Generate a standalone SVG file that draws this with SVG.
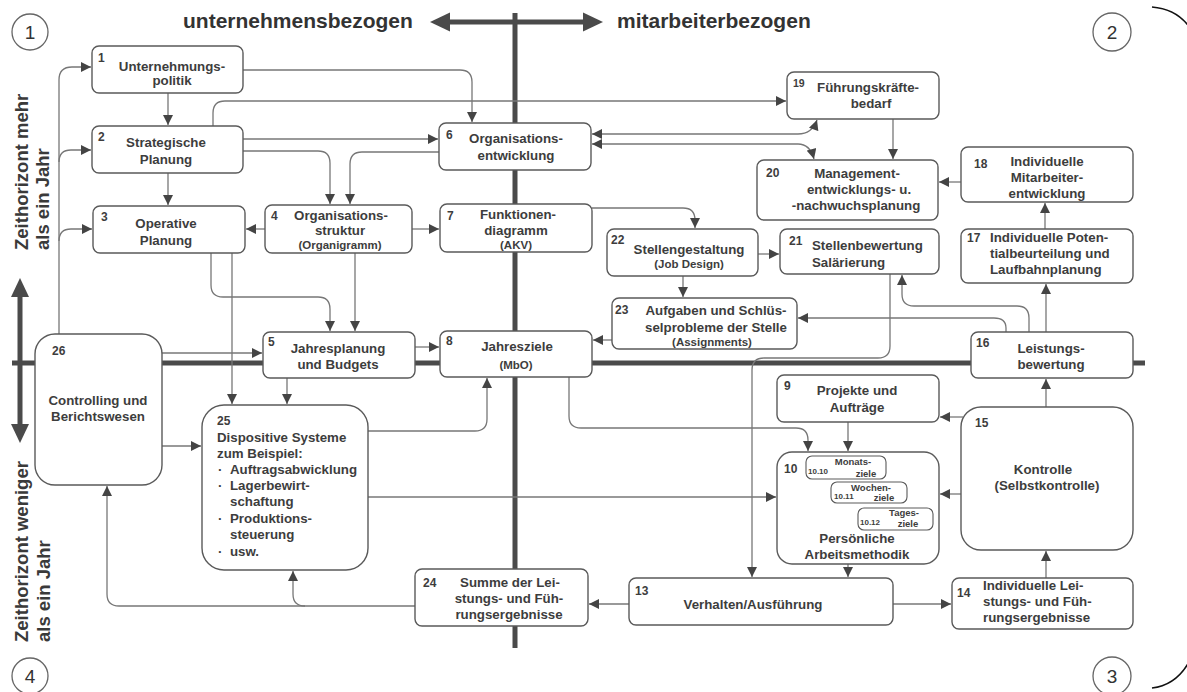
<svg xmlns="http://www.w3.org/2000/svg" width="1187" height="692" viewBox="0 0 1187 692">
<defs>
  <marker id="ah" viewBox="0 0 10 10" refX="10" refY="5" markerUnits="userSpaceOnUse" markerWidth="11" markerHeight="10" orient="auto-start-reverse">
    <path d="M0,0 L10,5 L0,10 z" fill="#444"/>
  </marker>
</defs>
<style>
  .axis { stroke: #4a4a4a; stroke-width: 5; fill: none; }
  .tip { fill: #4a4a4a; }
  .box { fill: #fff; stroke: #5a5a5a; stroke-width: 1.4; }
  .sub { fill: #fff; stroke: #5a5a5a; stroke-width: 1.1; }
  .c path { fill: none; stroke: #777; stroke-width: 1.3; marker-end: url(#ah); }
  .c path.both { marker-start: url(#ah); }
  text { font-family: "Liberation Sans", Arial, sans-serif; font-weight: bold; fill: #3d3d3d; font-size: 13.3px; }
  .m { text-anchor: middle; }
  .num { font-size: 12px; }
  .sm { font-size: 11.5px; }
  .xs { font-size: 9.5px; }
  .xxs { font-size: 8px; }
  .head { font-size: 21px; fill: #333; }
  .side { font-size: 18.5px; fill: #3a3a3a; }
  .circ { fill: none; stroke: #666; stroke-width: 1.3; }
  .circ-t { font-size: 19px; fill: #333; font-weight: normal; text-anchor: middle; }
</style>

<!-- axes -->
<g id="axes">
  <line class="axis" x1="515" y1="13" x2="515" y2="648"/>
  <line class="axis" x1="12" y1="363" x2="1145" y2="363"/>
  <!-- double arrow: unternehmensbezogen / mitarbeiterbezogen -->
  <line class="axis" x1="446" y1="22" x2="587" y2="22"/>
  <polygon class="tip" points="430,22 450,12.5 450,31.5"/>
  <polygon class="tip" points="603,22 583,12.5 583,31.5"/>
  <!-- double arrow: time horizon -->
  <line class="axis" x1="20" y1="294" x2="20" y2="427"/>
  <polygon class="tip" points="20,278 11,297 29,297"/>
  <polygon class="tip" points="20,443 11,424 29,424"/>
  <path d="M1152,7 Q1177,9 1190,28" fill="none" stroke="#111" stroke-width="1.6"/>
  <path d="M1152,688 Q1177,685 1190,660" fill="none" stroke="#111" stroke-width="1.6"/>
</g>

<!-- headings and quadrant labels -->
<g id="labels">
  <text class="head" x="183" y="28">unternehmensbezogen</text>
  <text class="head" x="617" y="28">mitarbeiterbezogen</text>
  <g transform="translate(28,250) rotate(-90)">
    <text class="side" x="0" y="0">Zeithorizont mehr</text>
    <text class="side" x="0" y="21">als ein Jahr</text>
  </g>
  <g transform="translate(28,642) rotate(-90)">
    <text class="side" x="0" y="0">Zeithorizont weniger</text>
    <text class="side" x="0" y="22">als ein Jahr</text>
  </g>
  <circle class="circ" cx="30" cy="32" r="18"/><text class="circ-t" x="30" y="39">1</text>
  <circle class="circ" cx="1112" cy="32" r="19"/><text class="circ-t" x="1112" y="39">2</text>
  <circle class="circ" cx="1112" cy="676" r="19"/><text class="circ-t" x="1112" y="683">3</text>
  <circle class="circ" cx="30" cy="676" r="18"/><text class="circ-t" x="30" y="683">4</text>
</g>

<!-- connectors -->
<g id="connectors" class="c">
  <path d="M168,93 V125"/>
  <path d="M168,173 V205"/>
  <path d="M243,70 H460 Q472,70 472,82 V122"/>
  <path d="M213,126 V113 Q213,101 225,101 H786"/>
  <path d="M243,139 H438"/>
  <path d="M243,151 H318 Q330,151 330,163 V204"/>
  <path d="M439,152 H362 Q350,152 350,164 V204"/>
  <path d="M265,229 H246"/>
  <path d="M412,229 H439"/>
  <path d="M211,253 V285 Q211,297 223,297 H318 Q330,297 330,309 V331"/>
  <path d="M355,253 V331"/>
  <path d="M232,253 V404"/>
  <path d="M287,378 V404"/>
  <path d="M162,353 H262"/>
  <path d="M162,446 H201"/>
  <path d="M415,347 H439"/>
  <path d="M368,431 H475 Q487,431 487,419 V378"/>
  <path d="M368,497 H776"/>
  <path d="M59,334 V80 Q59,67 72,67 H91"/>
  <path d="M59,162 Q59,150 71,150 H91"/>
  <path d="M59,241 Q59,229 71,229 H92"/>
  <path class="both" d="M592,134 H798 Q812,134 817,120"/>
  <path class="both" d="M592,144 H798 Q810,144 814,159"/>
  <path d="M893,119 V159"/>
  <path d="M961,182 H939"/>
  <path d="M1045,229 V203"/>
  <path d="M592,208 H683 Q695,208 695,220 V228"/>
  <path d="M758,254 H779"/>
  <path d="M683,276 V297"/>
  <path d="M612,340 H593"/>
  <path d="M1046,332 V284"/>
  <path d="M1029,332 V318 Q1029,306 1017,306 H914 Q902,306 902,294 V275"/>
  <path d="M1006,332 V328 Q1006,318 994,318 H798"/>
  <path d="M890,274 V346 Q890,358 878,358 H764 Q752,358 752,370 V577"/>
  <path d="M1046,407 V379"/>
  <path d="M963,417 H940"/>
  <path d="M961,494 H940"/>
  <path d="M848,422 V451"/>
  <path d="M569,377 V416 Q569,428 581,428 H796 Q808,428 808,440 V451"/>
  <path d="M848,564 V577"/>
  <path d="M629,604 H589"/>
  <path d="M893,604 H951"/>
  <path d="M1046,578 V551"/>
  <path d="M415,606 H305 Q293,606 293,594 V571"/>
  <path d="M305,606 H119 Q107,606 107,594 V486"/>
</g>

<!-- nodes -->
<g id="n1">
  <rect class="box" x="92" y="46" width="151" height="47" rx="7"/>
  <text class="num" x="98" y="62">1</text>
  <text class="m" x="172" y="71">Unternehmungs-</text>
  <text class="m" x="172" y="85">politik</text>
</g>
<g id="n2">
  <rect class="box" x="92" y="126" width="151" height="47" rx="7"/>
  <text class="num" x="98" y="141">2</text>
  <text class="m" x="166" y="147">Strategische</text>
  <text class="m" x="166" y="164">Planung</text>
</g>
<g id="n3">
  <rect class="box" x="93" y="206" width="152" height="47" rx="7"/>
  <text class="num" x="101" y="221">3</text>
  <text class="m" x="166" y="228">Operative</text>
  <text class="m" x="166" y="245">Planung</text>
</g>
<g id="n4">
  <rect class="box" x="265" y="205" width="147" height="48" rx="7"/>
  <text class="num" x="271" y="220">4</text>
  <text class="m" x="341" y="220">Organisations-</text>
  <text class="m" x="340" y="235">struktur</text>
  <text class="m sm" x="340" y="249">(Organigramm)</text>
</g>
<g id="n5">
  <rect class="box" x="263" y="332" width="152" height="46" rx="7"/>
  <text class="num" x="268" y="346">5</text>
  <text class="m" x="338" y="353">Jahresplanung</text>
  <text class="m" x="338" y="369">und Budgets</text>
</g>
<g id="n6">
  <rect class="box" x="439" y="123" width="152" height="47" rx="7"/>
  <text class="num" x="446" y="139">6</text>
  <text class="m" x="516" y="143">Organisations-</text>
  <text class="m" x="516" y="160">entwicklung</text>
</g>
<g id="n7">
  <rect class="box" x="440" y="204" width="152" height="48" rx="7"/>
  <text class="num" x="447" y="220">7</text>
  <text class="m" x="518" y="219">Funktionen-</text>
  <text class="m" x="516" y="235">diagramm</text>
  <text class="m sm" x="516" y="249">(AKV)</text>
</g>
<g id="n8">
  <rect class="box" x="440" y="331" width="152" height="46" rx="7"/>
  <text class="num" x="446" y="345">8</text>
  <text class="m" x="517" y="351">Jahresziele</text>
  <text class="m sm" x="516" y="369">(MbO)</text>
</g>
<g id="n22">
  <rect class="box" x="607" y="229" width="151" height="47" rx="7"/>
  <text class="num" x="611" y="244">22</text>
  <text class="m" x="689" y="254">Stellengestaltung</text>
  <text class="m sm" x="689" y="268">(Job Design)</text>
</g>
<g id="n23">
  <rect class="box" x="612" y="298" width="185" height="51" rx="7"/>
  <text class="num" x="615" y="314">23</text>
  <text class="m" x="716" y="315">Aufgaben und Schlüs-</text>
  <text class="m" x="716" y="332">selprobleme der Stelle</text>
  <text class="m sm" x="712" y="346">(Assignments)</text>
</g>
<g id="n21">
  <rect class="box" x="780" y="229" width="159" height="45" rx="7"/>
  <text class="num" x="789" y="245">21</text>
  <text x="812" y="250">Stellenbewertung</text>
  <text x="812" y="267">Salärierung</text>
</g>
<g id="n19">
  <rect class="box" x="787" y="72" width="152" height="47" rx="7"/>
  <text class="num" x="793" y="87" style="font-size:10.5px">19</text>
  <text class="m" x="868" y="92">Führungskräfte-</text>
  <text class="m" x="871" y="108">bedarf</text>
</g>
<g id="n20">
  <rect class="box" x="757" y="160" width="181" height="60" rx="7"/>
  <text class="num" x="766" y="177">20</text>
  <text class="m" x="857" y="178">Management-</text>
  <text class="m" x="859" y="194">entwicklungs- u.</text>
  <text class="m" x="856" y="210">-nachwuchsplanung</text>
</g>
<g id="n18">
  <rect class="box" x="961" y="147" width="172" height="55" rx="7"/>
  <text class="num" x="974" y="168">18</text>
  <text class="m" x="1047" y="166">Individuelle</text>
  <text class="m" x="1047" y="182">Mitarbeiter-</text>
  <text class="m" x="1047" y="198">entwicklung</text>
</g>
<g id="n17">
  <rect class="box" x="961" y="229" width="172" height="54" rx="7"/>
  <text class="num" x="967" y="242">17</text>
  <text x="990" y="242">Individuelle Poten-</text>
  <text x="990" y="258">tialbeurteilung und</text>
  <text x="990" y="274">Laufbahnplanung</text>
</g>
<g id="n16">
  <rect class="box" x="971" y="332" width="162" height="46" rx="7"/>
  <text class="num" x="976" y="347">16</text>
  <text class="m" x="1051" y="353">Leistungs-</text>
  <text class="m" x="1051" y="369">bewertung</text>
</g>
<g id="n9">
  <rect class="box" x="777" y="375" width="162" height="47" rx="7"/>
  <text class="num" x="784" y="390">9</text>
  <text class="m" x="857" y="395">Projekte und</text>
  <text class="m" x="857" y="412">Aufträge</text>
</g>
<g id="n15">
  <rect class="box" x="961" y="407" width="172" height="143" rx="20"/>
  <text class="num" x="975" y="427">15</text>
  <text class="m" x="1043" y="474">Kontrolle</text>
  <text class="m" x="1047" y="490">(Selbstkontrolle)</text>
</g>
<g id="n10">
  <rect class="box" x="777" y="452" width="162" height="112" rx="15"/>
  <text class="num" x="784" y="473">10</text>
  <g id="n10-10">
    <rect class="sub" x="806" y="456" width="80" height="23" rx="6"/>
    <text class="xxs" x="808" y="474">10.10</text>
    <text class="m xs" x="853" y="465">Monats-</text>
    <text class="m xs" x="866" y="477">ziele</text>
  </g>
  <g id="n10-11">
    <rect class="sub" x="831" y="482" width="76" height="21" rx="6"/>
    <text class="xxs" x="834" y="499">10.11</text>
    <text class="m xs" x="871" y="491">Wochen-</text>
    <text class="m xs" x="884" y="501">ziele</text>
  </g>
  <g id="n10-12">
    <rect class="sub" x="858" y="508" width="75" height="22" rx="6"/>
    <text class="xxs" x="860" y="525">10.12</text>
    <text class="m xs" x="904" y="516">Tages-</text>
    <text class="m xs" x="908" y="527">ziele</text>
  </g>
  <text class="m" x="857" y="543">Persönliche</text>
  <text class="m" x="857" y="559">Arbeitsmethodik</text>
</g>
<g id="n13">
  <rect class="box" x="629" y="578" width="264" height="47" rx="7"/>
  <text class="num" x="635" y="595">13</text>
  <text class="m" x="753" y="609">Verhalten/Ausführung</text>
</g>
<g id="n14">
  <rect class="box" x="952" y="578" width="181" height="51" rx="7"/>
  <text class="num" x="957" y="597">14</text>
  <text x="983" y="590">Individuelle Lei-</text>
  <text x="983" y="606">stungs- und Füh-</text>
  <text x="983" y="622">rungsergebnisse</text>
</g>
<g id="n24">
  <rect class="box" x="415" y="569" width="173" height="57" rx="7"/>
  <text class="num" x="423" y="587">24</text>
  <text class="m" x="510" y="587">Summe der Lei-</text>
  <text class="m" x="509" y="603">stungs- und Füh-</text>
  <text class="m" x="509" y="619">rungsergebnisse</text>
</g>
<g id="n26">
  <rect class="box" x="35" y="334" width="127" height="151" rx="20"/>
  <text class="num" x="52" y="355">26</text>
  <text class="m" x="98" y="405">Controlling und</text>
  <text class="m" x="98" y="421">Berichtswesen</text>
</g>
<g id="n25">
  <rect class="box" x="202" y="405" width="166" height="165" rx="22"/>
  <text class="num" x="217" y="425">25</text>
  <text x="217" y="442">Dispositive Systeme</text>
  <text x="217" y="458">zum Beispiel:</text>
  <text x="218" y="474">·</text><text x="230" y="474">Auftragsabwicklung</text>
  <text x="218" y="490">·</text><text x="230" y="490">Lagerbewirt-</text>
  <text x="230" y="506">schaftung</text>
  <text x="218" y="523">·</text><text x="230" y="523">Produktions-</text>
  <text x="230" y="539">steuerung</text>
  <text x="218" y="556">·</text><text x="230" y="556">usw.</text>
</g>
</svg>
